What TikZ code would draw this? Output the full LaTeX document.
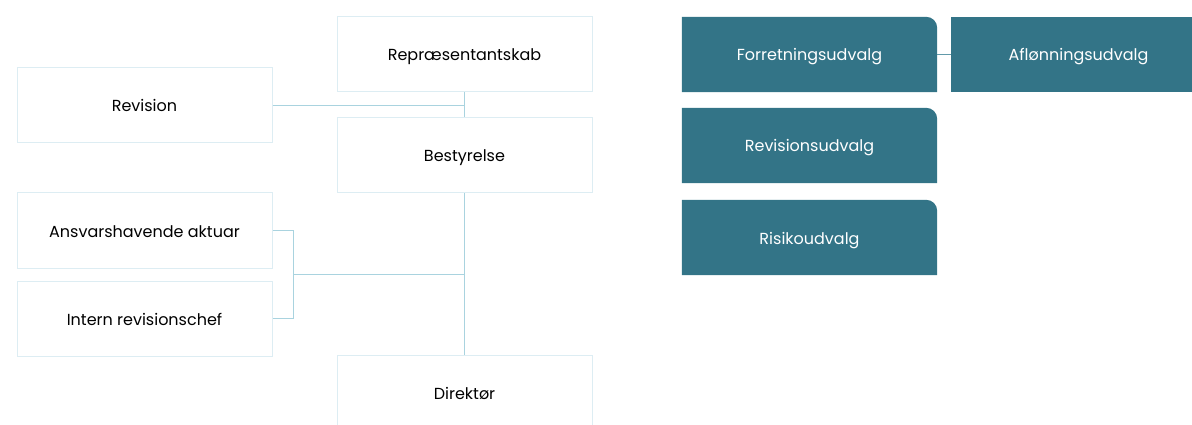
\documentclass[tikz,border=0pt]{standalone}
\usepackage{fontspec}
\usetikzlibrary{calc}
\setmainfont{Poppins}
\definecolor{teal}{HTML}{337487}
\definecolor{lineblue}{HTML}{A9D3DF}
\definecolor{boxline}{HTML}{DDEDF3}
\begin{document}
\begin{tikzpicture}[x=1pt,y=-1pt,
  txt/.style={font=\fontsize{16}{19}\selectfont,text height=15pt,text depth=2pt},
  wbox/.style={txt,draw=boxline,line width=1pt,fill=white,minimum width=255pt,minimum height=75pt,inner sep=0pt,text=black},
  tbox/.style={txt,minimum width=255pt,minimum height=75pt,inner sep=0pt,text=white},
  conn/.style={draw=lineblue,line width=0.9pt}]
\useasboundingbox (0,0) rectangle (1192,425);
\begin{scope}
\clip (0,0) rectangle (1192,425);
\node[wbox] (rep) at (464.5,54.5) {Repræsentantskab};
\node[wbox] (rev) at (144.5,105.5) {Revision};
\node[wbox] (best) at (464.5,155.5) {Bestyrelse};
\node[wbox] (ans) at (144.5,230.5) {Ansvarshavende aktuar};
\node[wbox] (int) at (144.5,318.5) {Intern revisionschef};
\node[wbox] (dir) at (464.5,392.5) {Direktør};

\coordinate (j1) at (rep.south |- rev.east);
\draw[conn] (rep.south) -- (best.north);
\draw[conn] (rev.east) -- (j1);
\draw[conn] (best.south) -- (dir.north);
\coordinate (b1) at ([xshift=21pt]ans.east);
\coordinate (b2) at ([xshift=21pt]int.east);
\coordinate (bm) at ($(b1)!0.5!(b2)$);
\draw[conn] (ans.east) -- (b1) -- (b2) -- (int.east);
\draw[conn] (bm) -- (bm -| best.south);

% teal boxes
\foreach \n/\y/\t in {for/54.5/Forretningsudvalg, revu/145.5/Revisionsudvalg, risk/237.5/Risikoudvalg}{
  \path (809.5,\y) node[tbox] (\n) {};
  \fill[teal] (\n.south west) -- (\n.north west) [rounded corners=11pt]-- (\n.north east) [sharp corners]-- (\n.south east) -- cycle;
  \node[tbox] at (\n) {\t};
}
\node[tbox,fill=teal] (afl) at (1078.5,54.5) {Aflønningsudvalg};
\draw[conn,draw=teal!60!lineblue] (for.east) -- (afl.west);
\end{scope}
\end{tikzpicture}
\end{document}
